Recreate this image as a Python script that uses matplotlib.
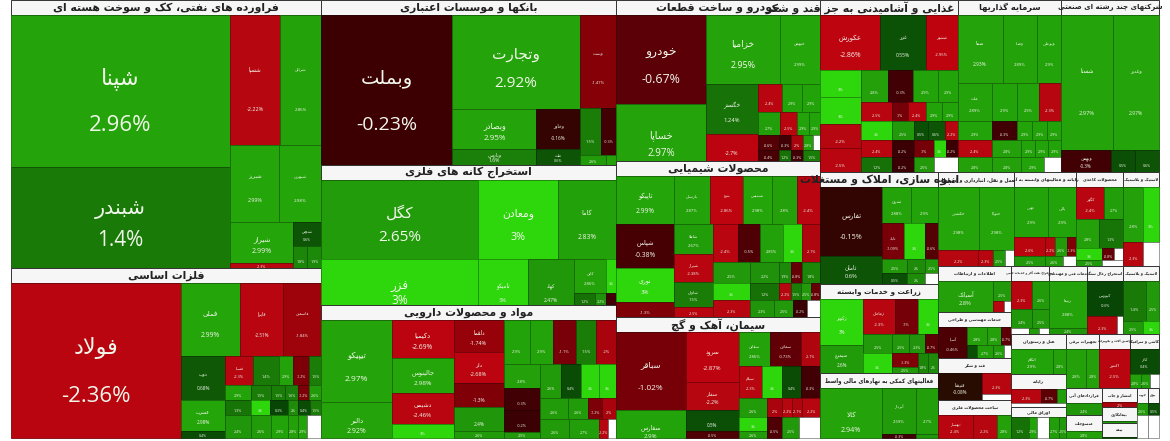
import numpy as np
import matplotlib
matplotlib.use("Agg")
import matplotlib.pyplot as plt
from matplotlib.patches import Rectangle


# tree helpers: first number of every node is its share of the parent
def H(share, *kids):
    return ("h", share, kids)


def V(share, *kids):
    return ("v", share, kids)


def S(share, title, size, content, head=15):
    return ("s", share, title, size, content, head)


BLANK = (None, None)

# -------------------------------
# Data: sector trees (share, name, % change)
# -------------------------------

oil = H(1,
    V(219, (151, "شپنا", 2.96), (101, "شبندر", 1.4)),
    V(91,
      H(129, (50, "شسپا", -2.22), (41, "شرانل", 2.86)),
      H(77, (49, "شبریز", 2.99), (42, "شبهرن", 2.98)),
      H(46, V(63, (41, "شیراز", 2.99), (5, "", -2.3)),
            V(28, (24, "شدوص", 0.6), H(21, (14, "", 1.8), (14, "", 1.9))))))

metals = H(1,
    (170, "فولاد", -2.36),
    V(140,
      H(73, (59, "فملی", 2.99), (43, "فایرا", -2.51), (38, "فاسمین", -1.84)),
      H(83,
        V(44, (45, "ذوب", 0.68), (31, "فسرب", 2.98), (7, "", 0.4)),
        V(96,
          H(30, (28, "فسپا", -2.3), (26, "", 1.4), (14, "", 2.9), (16, "", -1.2), (12, "", 1.5)),
          H(15, (26, "", 2.9), (20, "", 1.5), (14, "", 1.5), (13, "", 1.6), (11, "", -1.2), (12, "", 2.6)),
          H(15, (26, "", 1.3), (19, "", 3), (18, "", 0.3), (10, "", 2), (12, "", 0.4), (11, "", 1.5)),
          H(23, (26, "", 2.4), (20, "", 2.6), (17, "", 2.9), (10, "", 2.8), (9, "", 2.9), (14, *BLANK))))))

banks = H(1,
    (130, "وبملت", -0.23),
    V(127, (93, "وتجارت", 2.92),
      H(39, (83, "وبصادر", 2.95), (43, "وخاور", -0.16)),
      H(16, (83, "وپارس", 1.6), (43, "ملت", 0.6))),
    V(36, (93, "وپست", -1.47),
      H(47, (21, "", 1.5), (15, "", -0.3)),
      H(10, (26, "", 2.6), (10, "", 2.8))))

mining = V(1,
    H(78, (156, "کگل", 2.65), (80, "ومعادن", 3), (58, "کاما", 2.83)),
    H(46, (156, "فزر", 3, 8), (50, "تامیکو", 3, 8), (46, "کهاد", 2.47, 8),
      V(42, H(34, (32, "کاین", 2.86), (10, "", 3)),
            H(12, (21, "", 1.2), (11, "", 2.2), (10, "", -0.3)))))

pharma = H(1,
    V(70, (82, "تیپیکو", 2.97), (36, "دالبر", 2.92, 3)),
    V(62, (38, "دکیمیا", -2.69), (35, "جالینوس", 2.98), (31, "دشیمی", -2.46), (14, "", 3)),
    V(50, (32, "دلقما", -1.74), (31, "دلر", -2.68), (24, "", -1.3), (24, "", 2.4), (7, "", 2.6)),
    V(112,
      H(44, (26, "", 2.9), (23, "", 2.9), (23, "", -1.1), (20, "", 1.5), (20, "", -2)),
      H(74,
        V(36, (24, "", 2.8), (22, "", -0.3), (22, "", -0.2), (6, "", 2.5)),
        V(76,
          H(34, (21, "", 2.6), (20, "", 0.4), (18, "", 3), (17, "", 3)),
          H(21, (28, "", 2.6), (20, "", 2.6), (14, "", -1.2), (14, "", -2)),
          H(19, (29, "", 2.6), (30, "", 2.7), (9, "", -2.2), (8, *BLANK))))))

autos = H(1,
    V(89, (89, "خودرو", -0.67), (57, "خساپا", 2.97, 8)),
    V(114,
      H(69, (74, "خزامیا", 2.95), (40, "خبهمن", 2.99)),
      H(77,
        V(52, (50, "خگستر", 1.24), (27, "", -2.7)),
        V(62,
          H(28, (24, "", -2.4), (20, "", 2.9), (18, "", 2.9)),
          H(23, (22, "", 2.7), (17, "", -2.5), (12, "", 2.9), (11, "", 2.9)),
          H(15, (21, "", -0.6), (12, "", -0.3), (12, "", -2), (10, "", 2.8), (7, *BLANK)),
          H(11, (21, "", -0.4), (12, "", 1.2), (12, "", -0.3), (17, "", 1.5))))))

chemicals = V(1,
    H(48, (58, "تاپیکو", 2.99), (35, "پارسان", 2.87), (33, "پترو", -2.86),
      (29, "شپدیس", 2.98), (25, "", 2.8), (23, "", -2.4)),
    H(92,
      V(58, (43, "شپاس", -0.38), (34, "نوری", 3), (15, "", -1.3)),
      V(38, (29, "شاملا", 2.67), (28, "شیراز", -2.38), (25, "شاوان", 1.5), (10, "", -2.5)),
      V(107,
        H(37, (25, "", -2.4), (22, "", -0.5), (23, "", 2.85), (19, "", 3), (18, "", -2.1)),
        H(21, (37, "", 2.5), (29, "", 2.2), (12, "", 1.9), (11, "", -0.8), (18, "", 1.8)),
        H(17, (37, "", 3), (29, "", 1.2), (12, "", -2.2), (10, "", 1.5), (10, "", 2.5), (9, "", -0.8)),
        H(17, (37, "", -2.3), (24, "", 2.3), (19, "", 2.5), (14, "", -0.2), (13, *BLANK)))))

cement = H(1,
    V(69, (77, "سباقر", -1.02), (28, "سفارس", 2.9, 6)),
    V(53, (50, "سرود", -2.87), (27, "سفار", -2.2), (21, "", 0.5), (7, "", -0.5)),
    V(81,
      H(34, (31, "سقاین", 2.86), (31, "سمازن", -0.73), (19, "", -2.1)),
      H(31, (23, "سیلام", -2.3), (20, "", 3), (19, "", 0.4), (19, "", -0.3)),
      H(40,
        V(28, (19, "", 2.6), (14, "", 3), (7, "", 2.6)),
        V(53,
          H(19, (15, "", -2), (10, "", -2.2), (10, "", -2.1), (18, "", -2.2)),
          H(21, (15, "", -0.5), (17, "", 2.5), (21, *BLANK))))))

food = V(1,
    H(55, (60, "عکورش", -2.86), (46, "غزر", 0.55), (32, "غبشهر", -2.95)),
    H(102,
      V(41, (27, "", 3), (27, "", 3), (24, "", -2.2), (24, "", -2.5)),
      V(97,
        H(32, (27, "", 2.8), (25, "", -0.3), (25, "", 2.9), (20, "", 2.9)),
        H(19, (31, "", -2.5), (16, "", -1), (18, "", -2.4), (16, "", 2.9), (16, "", 2.9)),
        H(19, (31, "", 3), (22, "", 2.5), (14, "", 0.5), (17, "", 0.6), (13, "", -2.2)),
        H(17, (31, "", -2.4), (22, "", -0.2), (20, "", -1), (12, "", 3), (12, "", -0.2)),
        H(15, (31, "", 1.2), (22, "", -0.2), (20, "", 2.5), (24, *BLANK)))))

investment = V(1,
    H(68, (45, "سما", 2.93), (35, "وصنا", 2.89), (24, "وبوعلی", 2.9)),
    H(38, (34, "ملت", 2.89), (26, "", 2.9), (22, "", 2.9), (22, "", -2.3)),
    H(19, (34, "", 2.9), (26, "", -0.3), (15, "", 2.9), (15, "", 2.9), (14, "", 2.9)),
    H(17, (34, "", -2.4), (30, "", 2.8), (14, "", 2.9), (13, "", 2.9), (13, "", 2.9)),
    H(15, (34, "", 2.8), (30, "", 2.8), (23, "", 2.9), (17, *BLANK)))

multi = V(1,
    H(135, (51, "شستا", 2.97), (46, "وغدیر", 2.97)),
    H(22, (49, "وبهمن", -0.3), (24, "", 0.5), (24, "", 0.6)))

housing = H(1,
    V(62, (68, "تفارس", -0.15), (28, "ثامان", 0.6)),
    V(56,
      H(36, (29, "ثشرق", 2.88), (27, "", 2.9)),
      H(35, (22, "ثاباد", -1.09), (21, "", 3), (13, "", -0.6)),
      H(14, (25, "", 2.5), (18, "", 2), (13, "", 2.5)),
      H(11, (25, "", 0.5), (18, "", 2), (13, *BLANK))))

agri = H(1,
    V(43, (46, "زکوثر", 3), (28, "سیمرغ", 2.6)),
    V(75,
      H(35, (32, "زماهان", -2.3), (23, "", -1), (20, "", 3)),
      H(19, (29, "", 2.5), (17, "", 2.5), (16, "", 2.3), (13, "", -0.7)),
      H(20, (29, "", 3), V(26, (14, "", -1.3), (6, "", 2.5)), (10, "", 1.8), (10, "", 2))))

financial = H(1,
    (62, "کالا", 2.94, 6),
    V(56,
      H(45, (34, "آپرداز", 2.59), (22, "", 2.7)),
      H(4, (34, "", -0.3), (22, "", 2.4))))

transport = V(1,
    H(62, (41, "حکشتی", 2.98), (35, "حتوکا", 2.98)),
    H(16, (40, "", -2.2), (15, "", -2.3), (12, "", 2.5), (9, *BLANK)))

computer_top = V(1,
    H(49, (34, "تهبی", 2.9), (28, "یالی", 2.9)),
    H(19, (31, "", -2.6), (10, "", -2.2), (12, "", 2.6), (9, "", -1.3)),
    H(10, (31, "", 2.5), (18, "", 2.6), (13, *BLANK)))

paper = V(1,
    H(32, (28, "کگهر", -2.4), (19, "", 2.7)),
    H(28, (23, "", 2.8), (24, "", 1.3)),
    H(12, (26, "", 3), (12, "", -0.8), (9, *BLANK)),
    H(6, (26, "", 2.5), (21, *BLANK)))

textile = V(1,
    H(54, (20, "", 2.8), (16, "", 3)),
    H(24, (20, "", -2.3), (16, *BLANK)))

telecom = H(1, (54, "آسیاتک", 2.8),
    V(18, (20, "", 2.5), H(11, (11, "", -2.3), (7, *BLANK))))
engineering = H(1, (29, "آسیا", -0.46),
    V(43,
      H(18, (19, "", 2.8), (14, "", 2.8), (10, "", -0.7)),
      H(13, (9, "", 0.5), (16, "", 2.7), (11, "", 2.6), (7, *BLANK))))
sugar = H(1, (43, "قنیشا", -0.08), V(29, (20, "", -2.3), (6, *BLANK)))
metal_products = H(1, (34, "ثبهساز", -2.4), (24, "", -2.2), (14, "", 2.8))

oil_gas = V(1,
    H(27, (21, "", -2.3), (17, "", 2.6)),
    H(19, (21, "", 2.4), (17, "", 2.5)),
    H(6, (18, *BLANK), (10, "", 2.6), (10, *BLANK)))
services = V(1, (46, "رپیما", 2.88), (6, "", 2.4))
coal = V(1, (34, "کبورس", 0.3), H(18, (30, "", -2.3), (6, *BLANK)))
plastics = V(1, H(39, (23, "", 1.4), (13, "", 2.5)), H(13, (20, "", 2.5), (16, "", 3)))

hotels = H(1, (42, "اتکام", 2.9), (13, "", 2.8))
software = V(1, H(15, (30, "", -2.3), (16, "", -0.7), (9, "", 2.7)), (4, *BLANK))
base_fin = H(1, (18, "", 1.2), (8, "", 2.9), (12, *BLANK), (10, "", 2.7), (7, "", 2.5))
electric = H(1, (20, "", 2.8), (13, "", 2.8))
machinery = H(1, (30, "اکنتور", -2.5))
tiles = V(1, (24, "کاذر", 0.4), H(14, (11, "", 2.8), (9, "", 2.6), (9, *BLANK)))

# colour scale of the map: % change -> RGB
scale_pct = [-3, -2.2, -1.5, -1.0, -0.6, -0.2, 0, 0.3, 1.4, 2.0, 2.99, 3.0]
scale_r = [190, 182, 135, 118, 85, 58, 30, 8, 25, 30, 36, 45]
scale_g = [3, 6, 0, 0, 0, 0, 20, 70, 122, 140, 165, 215]
scale_b = [15, 15, 8, 8, 5, 3, 0, 5, 8, 10, 10, 12]

food_title = "غذایی و آشامیدنی به جز قند و شکر"
housing_title = "انبوه سازی، املاک و مستغلات"

market = H(1,
    V(311,
      S(268, "فراورده های نفتی، کک و سوخت هسته ای", 7.8, oil),
      S(170, "فلزات اساسی", 7.8, metals)),
    V(295,
      S(165, "بانکها و موسسات اعتباری", 7.8, banks),
      S(140, "استخراج کانه های فلزی", 7.8, mining),
      S(133, "مواد و محصولات دارویی", 7.8, pharma)),
    V(204,
      S(161, "خودرو و ساخت قطعات", 7.8, autos),
      S(156, "محصولات شیمیایی", 7.8, chemicals),
      S(121, "سیمان، آهک و گچ", 7.8, cement)),
    V(339,
      H(172,
        S(138, food_title, 7.8, food),
        S(104, "سرمایه گذاریها", 6, investment),
        S(98, "شرکتهای چند رشته ای صنعتی", 5, multi)),
      H(266,
        V(118,
          S(112, housing_title, 7.8, housing),
          S(89, "زراعت و خدمات وابسته", 5.2, agri),
          S(65, "فعالیتهای کمکی به نهادهای مالی واسط", 4, financial)),
        V(221,
          H(94,
            S(76, "حمل و نقل، انبارداری و ارتباطات", 3.4, transport),
            S(62, "رایانه و فعالیتهای وابسته به آن", 3.2, computer_top),
            S(47, "محصولات کاغذی", 3, paper),
            S(36, "لاستیک و پلاستیک", 2.8, textile)),
          H(172,
            V(73,
              S(46, "اطلاعات و ارتباطات", 3, telecom),
              S(46, "خدمات مهندسی و طراحی", 3, engineering),
              S(42, "قند و شکر", 3, sugar),
              S(38, "ساخت محصولات فلزی", 3, metal_products)),
            V(148,
              H(68,
                S(38, "استخراج نفت گاز و خدمات جنبی", 2.2, oil_gas),
                S(38, "خدمات فنی و مهندسی", 2.6, services),
                S(36, "استخراج زغال سنگ", 2.6, coal),
                S(36, "لاستیک و پلاستیک", 2.6, plastics)),
              H(104,
                V(55,
                  S(40, "هتل و رستوران", 3, hotels),
                  S(33, "رایانه", 3, software),
                  S(31, "اوراق مالی", 3, base_fin, 10)),
                V(93,
                  H(54,
                    S(33, "تجهیزات برقی", 2.8, electric),
                    S(30, "ماشین آلات و تجهیزات", 2.2, machinery),
                    S(29, "کاشی و سرامیک", 2.6, tiles)),
                  H(50,
                    V(36,
                      S(27, "قراردادهای آتی", 2.8, H(1, (1, "", 2.4))),
                      S(23, "منسوجات", 2.8, H(1, (1, "", 2.8)), 16)),
                    V(34,
                      S(19, "انتشار و چاپ", 2.6, H(1, (1, "", -2)), 14),
                      S(16, "پیمانکاری", 2.6, H(1, (1, "", 2.4)), 14),
                      S(15, "بیمه", 2.6, H(1, (1, "", 0.5)), 14)),
                    V(11, S(50, "چوب", 2.4, V(1, (12, "", 2.6), (23, *BLANK)))),
                    V(11, S(50, "برق", 2.4, V(1, (12, "", 0.5), (23, *BLANK))))))))))))
)

# -------------------------------
# Persian shaping: matplotlib does no joining or bidi
# -------------------------------

JOIN4 = {"ب": 0xFE8F, "پ": 0xFB56, "ت": 0xFE95, "ث": 0xFE99, "ج": 0xFE9D, "چ": 0xFB7A, "ح": 0xFEA1,
         "خ": 0xFEA5, "س": 0xFEB1, "ش": 0xFEB5, "ص": 0xFEB9, "ض": 0xFEBD, "ط": 0xFEC1, "ظ": 0xFEC5,
         "ع": 0xFEC9, "غ": 0xFECD, "ف": 0xFED1, "ق": 0xFED5, "ک": 0xFB8E, "گ": 0xFB92, "ل": 0xFEDD,
         "م": 0xFEE1, "ن": 0xFEE5, "ه": 0xFEE9, "ی": 0xFBFC}
JOIN2 = {"ا": 0xFE8D, "آ": 0xFE81, "د": 0xFEA9, "ذ": 0xFEAB, "ر": 0xFEAD, "ز": 0xFEAF, "ژ": 0xFB8A, "و": 0xFEED}


def shape(text):
    out = []
    prev_joins = False
    i = 0
    while i < len(text):
        c = text[i]
        nxt = text[i + 1] if i + 1 < len(text) else ""
        if c == "ل" and nxt and nxt in "اآ":
            base = 0xFEFB if nxt == "ا" else 0xFEF5
            out.append(chr(base + (1 if prev_joins else 0)))
            prev_joins = False
            i += 2
            continue
        if c in JOIN4:
            form = 1 if prev_joins else 0
            if nxt in JOIN4 or nxt in JOIN2:
                form = 3 if prev_joins else 2
                out.append(chr(JOIN4[c] + form))
                prev_joins = True
            else:
                out.append(chr(JOIN4[c] + form))
                prev_joins = False
        elif c in JOIN2:
            out.append(chr(JOIN2[c] + (1 if prev_joins else 0)))
            prev_joins = False
        else:
            out.append(c)
            prev_joins = False
        i += 1
    return "".join(reversed(out))


def pct_color(p):
    r = np.interp(p, scale_pct, scale_r)
    g = np.interp(p, scale_pct, scale_g)
    b = np.interp(p, scale_pct, scale_b)
    return (r / 255, g / 255, b / 255)


# -------------------------------
# Drawing
# -------------------------------

fig = plt.figure(figsize=(11.7, 4.41), dpi=100)
ax = fig.add_axes([0, 0, 1, 1])
ax.set_xlim(0, 1170)
ax.set_ylim(441, 0)
ax.axis("off")

titles = []


def draw_leaf(leaf, x, y, w, h):
    name, pct = leaf[1], leaf[2]
    shift = leaf[3] if len(leaf) > 3 else 0
    if pct is None:
        ax.add_patch(Rectangle((x, y), w, h, fc="white", ec="#555555", lw=0.4))
        return
    col = pct_color(pct)
    edge = tuple(c * 0.65 for c in col)
    cell = Rectangle((x, y), w, h, fc=col, ec=edge, lw=0.6)
    ax.add_patch(cell)
    if w * h < 130:
        return
    # narrow cells in the map carry much smaller labels than their area suggests
    fs = min(np.sqrt(w * h) * 0.1, np.interp(w, [40, 75, 90, 130, 170], [3, 6.5, 10, 14, 16]))
    fs = max(fs, 2.6)
    if name:
        t = ax.text(x + w / 2, y + h * 0.42 + shift, shape(name), color="#f2f7ec", fontsize=fs,
                    ha="center", va="center", family="DejaVu Sans")
        t.set_clip_path(cell)
    t = ax.text(x + w / 2, y + h * 0.73 + shift, f"{pct:g}%", color="#f2f7ec", fontsize=fs,
                ha="center", va="center", family=["Open Sans", "DejaVu Sans"])
    t.set_clip_path(cell)


def layout(node, x, y, w, h):
    if node[0] == "s":
        _, _, title, size, content, head = node
        ax.add_patch(Rectangle((x, y), w, head, fc="#f6f6f6", ec="#333333", lw=0.7))
        titles.append((x + w / 2, y + head / 2, title, size))
        layout(content, x, y + head, w, h - head)
    elif node[0] in ("h", "v"):
        kids = node[2]
        shares = [k[1] if k[0] in ("h", "v", "s") else k[0] for k in kids]
        total = sum(shares)
        pos = 0
        for k, s in zip(kids, shares):
            f = s / total
            if node[0] == "h":
                layout(k, x + pos * w, y, w * f, h)
            else:
                layout(k, x, y + pos * h, w, h * f)
            pos += f
    else:
        draw_leaf(node, x, y, w, h)


layout(market, 10.5, 0, 1148.5, 438)

# titles last so that long ones run over their neighbours, as in the map
for tx, ty, title, size in titles:
    if title == food_title:
        # this one ends at the right edge of its box and spills left over the autos title
        tx = 860
    t = ax.text(tx, ty, shape(title), color="#222222", fontsize=size, fontweight="bold",
                ha="center", va="center", family="DejaVu Sans")
    if title == housing_title:
        t.set_clip_path(Rectangle((820, 0), 350, 441, transform=ax.transData))

fig.savefig("out.png", dpi=100)
